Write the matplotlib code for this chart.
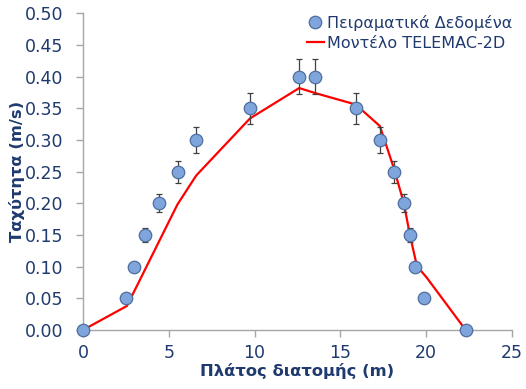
import matplotlib
matplotlib.use("Agg")
import matplotlib.pyplot as plt

# experimental data (width m, velocity m/s, error)
x_exp = [0.0, 2.52, 2.99, 3.59, 4.43, 5.55, 6.6, 9.73, 12.6, 13.54,
         15.89, 17.3, 18.12, 18.7, 19.05, 19.36, 19.88, 22.3]
v_exp = [0.0, 0.05, 0.10, 0.15, 0.20, 0.25, 0.30, 0.35, 0.40, 0.40,
         0.35, 0.30, 0.25, 0.20, 0.15, 0.10, 0.05, 0.0]
err_exp = [0.0, 0.0035, 0.007, 0.0105, 0.014, 0.0175, 0.021, 0.0245, 0.028, 0.028,
           0.0245, 0.021, 0.0175, 0.014, 0.0105, 0.007, 0.0035, 0.0]

# TELEMAC-2D model
x_mod = [0.0, 2.56, 5.5, 6.6, 9.73, 12.6, 13.54, 15.89, 17.3, 18.12,
         18.7, 19.05, 19.46, 20.05, 22.3]
v_mod = [0.0, 0.038, 0.198, 0.244, 0.334, 0.382, 0.374, 0.356, 0.322, 0.255,
         0.2, 0.15, 0.101, 0.082, 0.0]

navy = "#1F3A6E"
grey = "#A6A6A6"

fig = plt.figure(figsize=(5.26, 3.89), dpi=100)
ax = fig.add_axes([83 / 526, 1 - 330 / 389, (512 - 83) / 526, (330 - 13.3) / 389])

line, = ax.plot(x_mod, v_mod, color="#FF0000", lw=1.6, zorder=2)
ax.errorbar(x_exp, v_exp, yerr=err_exp, fmt="none", ecolor="#404040",
            elinewidth=0.9, capsize=2, capthick=0.9, zorder=3)
pts, = ax.plot(x_exp, v_exp, "o", ms=9, mfc="#7EA6DC", mec="#4F6E9E",
               mew=0.9, ls="none", zorder=4, clip_on=False)

ax.set_xlim(0, 25)
ax.set_ylim(0, 0.5)
ax.set_xticks([0, 5, 10, 15, 20, 25])
ax.set_yticks([0, 0.05, 0.1, 0.15, 0.2, 0.25, 0.3, 0.35, 0.4, 0.45, 0.5])
ax.set_yticklabels(["%.2f" % t for t in ax.get_yticks()])

for s in ["top", "right"]:
    ax.spines[s].set_visible(False)
for s in ["left", "bottom"]:
    ax.spines[s].set_color(grey)
    ax.spines[s].set_linewidth(1.0)
ax.tick_params(axis="both", direction="out", length=5, color=grey,
               labelcolor=navy, labelsize=12.5, width=1.0)
ax.tick_params(axis="y", pad=9)
ax.tick_params(axis="x", pad=5)

ax.set_xlabel("Πλάτος διατομής (m)", fontsize=11.8, fontweight="bold",
              color=navy, labelpad=1)
ax.set_ylabel("Ταχύτητα (m/s)", fontsize=11.8, fontweight="bold",
              color=navy, labelpad=0)

ax.legend([pts, line], ["Πειραματικά Δεδομένα", "Μοντέλο TELEMAC-2D"],
          loc="upper right", bbox_to_anchor=(1.024, 1.025), frameon=False,
          fontsize=11.5, labelcolor=navy, handlelength=1.1,
          handletextpad=0.2, borderaxespad=0.2, labelspacing=0.3)

fig.savefig("out.png", dpi=100)
